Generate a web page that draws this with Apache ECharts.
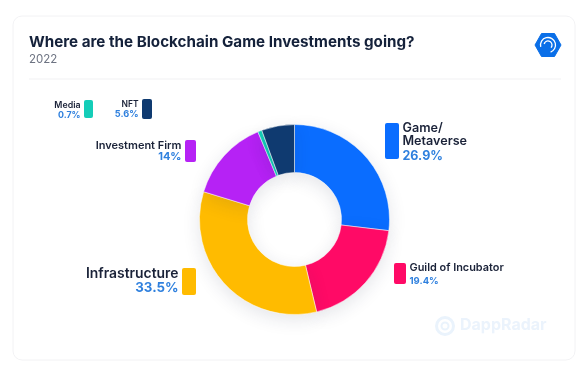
<!DOCTYPE html>
<html>
<head>
<meta charset="utf-8">
<style>html,body{margin:0;padding:0;background:#fff}#chart{width:584px;height:371px}</style>
<script src="https://cdn.jsdelivr.net/npm/echarts@6/dist/echarts.min.js"></script>
</head>
<body>
<div id="chart"></div>
<script>
const categories = ['Game/\nMetaverse', 'Guild of Incubator', 'Infrastructure', 'Investment Firm', 'Media', 'NFT'];
const values = [26.9, 19.4, 33.5, 14, 0.7, 5.6];
const colors = ['#0a6dff', '#ff0a66', '#ffbb00', '#b622f5', '#14cdb8', '#0f3a70'];

// legend placement, same order as categories
const swatches = [
  { x: 385, y: 123, w: 14, h: 36, side: 'left', size: 12.6, pct: 12.5, lh: 13, top: -1.5, gap: 15 },
  { x: 394, y: 263, w: 12, h: 21, side: 'left', size: 10.9, pct: 9.5, lh: 12, top: -1, gap: 13 },
  { x: 182, y: 268, w: 14, h: 27, side: 'right', size: 13.9, pct: 13.3, lh: 14, top: -1, gap: 14 },
  { x: 185, y: 140, w: 11, h: 22, side: 'right', size: 11, pct: 11, lh: 12, top: 0, gap: 11 },
  { x: 84, y: 100, w: 9, h: 18, side: 'right', size: 8.8, pct: 8.8, lh: 10, top: 0, gap: 10 },
  { x: 142, y: 99, w: 10, h: 20, side: 'right', size: 8.5, pct: 9.2, lh: 10, top: 0, gap: 10 }
];

const font = 'Inter';
const legend = [];
categories.forEach((name, i) => {
  const s = swatches[i];
  legend.push({
    type: 'rect', shape: { x: s.x, y: s.y, width: s.w, height: s.h, r: 2 },
    style: { fill: colors[i] }, z: 5
  });
  const left = s.side === 'left';
  const tx = left ? s.x + s.w + 3.5 : s.x - 3.5;
  const lines = name.split('\n').length;
  legend.push({
    type: 'text', x: tx, y: s.y + s.top, z: 5,
    style: {
      text: name, font: `600 ${s.size}px ${font}`, fill: '#1a2238',
      align: left ? 'left' : 'right', lineHeight: s.lh
    }
  });
  legend.push({
    type: 'text', x: tx, y: s.y + s.top + s.lh * (lines - 1) + s.gap, z: 5,
    style: {
      text: values[i] + '%', font: `700 ${s.pct}px ${font}`, fill: '#2f80de',
      align: left ? 'left' : 'right', lineHeight: s.lh
    }
  });
});

const chart = echarts.init(document.getElementById('chart'));
chart.setOption({
  animation: false,
  title: {
    text: 'Where are the Blockchain Game Investments going?',
    subtext: '2022',
    left: 29, top: 35, itemGap: 4, padding: 0,
    textStyle: { fontFamily: font, fontSize: 15.2, fontWeight: 700, color: '#14213a' },
    subtextStyle: { fontFamily: font, fontSize: 11.5, color: '#6d7382' }
  },
  graphic: [
    { type: 'rect', z: -1, shape: { x: 13, y: 16, width: 562, height: 344, r: 9 },
      style: { fill: '#fff', stroke: '#f2f2f4', lineWidth: 1 } },
    { type: 'line', shape: { x1: 29, y1: 79, x2: 561, y2: 79 }, style: { stroke: '#f1f1f3', lineWidth: 1 } },
    // logo, top right
    { type: 'polygon', shape: { points: [[535, 45], [541.5, 33.5], [554.5, 33.5], [561, 45], [554.5, 56.5], [541.5, 56.5]] },
      style: { fill: '#0a6fe8', stroke: '#0a6fe8', lineWidth: 1, lineJoin: 'round' } },
    { type: 'arc', shape: { cx: 548, cy: 45, r: 7.5, startAngle: 2.9, endAngle: 7.5 },
      style: { fill: 'none', stroke: '#fff', lineWidth: 1.3 } },
    { type: 'arc', shape: { cx: 548, cy: 45, r: 4, startAngle: 3.4, endAngle: 7 },
      style: { fill: 'none', stroke: '#fff', lineWidth: 1.3 } },
    // faint watermark
    { type: 'circle', shape: { cx: 445, cy: 326, r: 8.5 }, style: { fill: 'none', stroke: '#eaf3fc', lineWidth: 3 } },
    { type: 'circle', shape: { cx: 445, cy: 326, r: 3.5 }, style: { fill: 'none', stroke: '#eaf3fc', lineWidth: 2 } },
    { type: 'text', x: 460, y: 317, style: { text: 'DappRadar', font: `700 16px ${font}`, fill: '#ebf3fc' } },
    ...legend
  ],
  series: [{
    type: 'pie',
    center: [294.5, 219.5],
    radius: [47, 95],
    startAngle: 90,
    clockwise: true,
    label: { show: false },
    labelLine: { show: false },
    silent: true,
    itemStyle: {
      borderColor: '#fff', borderWidth: 0.5,
      shadowBlur: 18, shadowColor: 'rgba(30,40,70,0.12)', shadowOffsetY: 5
    },
    data: categories.map((name, i) => ({ name, value: values[i], itemStyle: { color: colors[i] } }))
  }]
});
</script>
</body>
</html>
